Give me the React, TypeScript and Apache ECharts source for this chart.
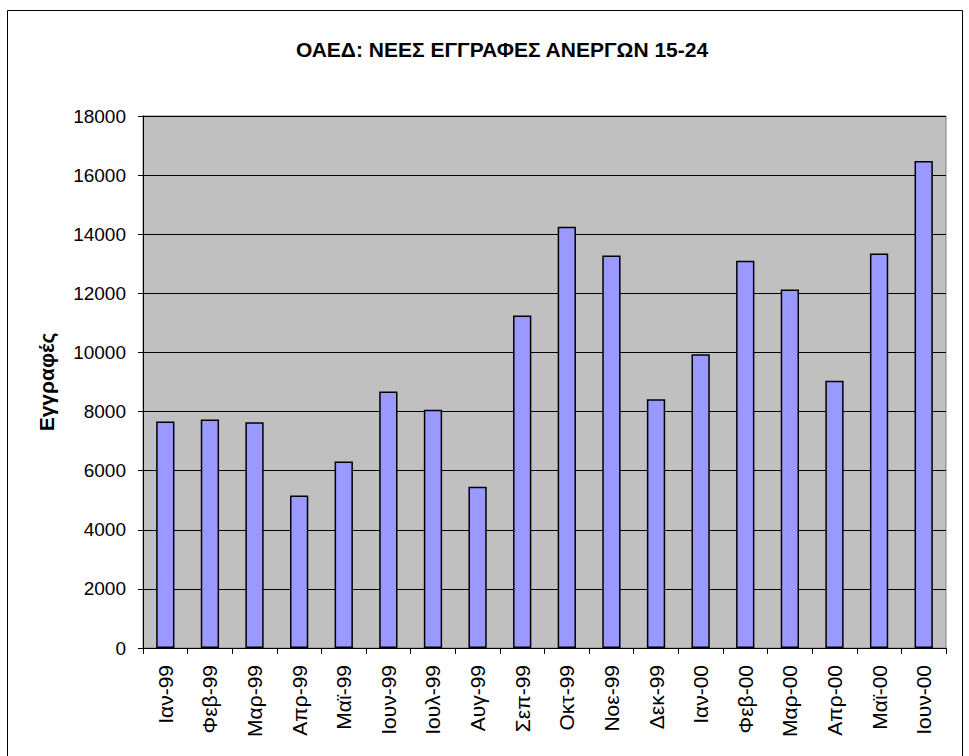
import React, { useEffect, useRef } from "react";
import * as echarts from "echarts";

const categories = [
  "Ιαν-99", "Φεβ-99", "Μαρ-99", "Απρ-99", "Μαϊ-99", "Ιουν-99", "Ιουλ-99", "Αυγ-99", "Σεπ-99",
  "Οκτ-99", "Νοε-99", "Δεκ-99", "Ιαν-00", "Φεβ-00", "Μαρ-00", "Απρ-00", "Μαϊ-00", "Ιουν-00",
];
const registrations = [
  7660, 7730, 7640, 5160, 6310, 8680, 8060, 5460, 11250,
  14250, 13280, 8420, 9940, 13100, 12130, 9040, 13350, 16480,
];
const titleText = "ΟΑΕΔ: ΝΕΕΣ ΕΓΓΡΑΦΕΣ ΑΝΕΡΓΩΝ 15-24";
const yAxisName = "Εγγραφές";
const yMin = 0;
const yMax = 18000;
const yInterval = 2000;

const FONT = "'Liberation Sans', Arial, sans-serif";

export default function App() {
  const ref = useRef<HTMLDivElement>(null);
  useEffect(() => {
    if (!ref.current) return;
    const chart = echarts.init(ref.current, null, { renderer: "svg" });
    chart.setOption({
      animation: false,
      backgroundColor: "#ffffff",
      title: {
        text: titleText,
        left: 497,
        top: 34,
        textAlign: "center",
        textStyle: { fontFamily: FONT, fontWeight: "bold", fontSize: 21, color: "#000" },
      },
      graphic: [
        {
          type: "rect",
          shape: { x: 7.5, y: 10.5, width: 955, height: 800 },
          style: { fill: "none", stroke: "#000", lineWidth: 1 },
          silent: true,
          z: -1,
        },
      ],
      grid: {
        left: 143,
        top: 116,
        width: 803,
        height: 532,
        show: true,
        backgroundColor: "#C0C0C0",
        borderColor: "#808080",
        borderWidth: 1,
      },
      xAxis: {
        type: "category",
        data: categories,
        axisLine: { lineStyle: { color: "#000", width: 1 } },
        axisTick: { show: true, alignWithLabel: false, length: 6, lineStyle: { color: "#000" } },
        axisLabel: {
          rotate: 90,
          margin: 17,
          fontSize: 21,
          fontFamily: FONT,
          color: "#000",
          interval: 0,
        },
      },
      yAxis: {
        type: "value",
        min: yMin,
        max: yMax,
        interval: yInterval,
        name: yAxisName,
        nameLocation: "middle",
        nameRotate: 90,
        nameGap: 86,
        nameTextStyle: { fontFamily: FONT, fontWeight: "bold", fontSize: 21, color: "#000" },
        axisLine: { show: true, lineStyle: { color: "#000", width: 1 } },
        axisTick: { show: true, length: 5, lineStyle: { color: "#000" } },
        axisLabel: {
          fontSize: 19,
          fontFamily: FONT,
          color: "#000",
          margin: 17,
          formatter: (v: number) => String(v),
        },
        splitLine: { show: true, lineStyle: { color: "#000", width: 1 } },
      },
      series: [
        {
          type: "bar",
          data: registrations,
          barWidth: "41%",
          itemStyle: { color: "#9999FF", borderColor: "#000", borderWidth: 1.5 },
        },
      ],
    });
    return () => chart.dispose();
  }, []);
  return (
    <div
      ref={ref}
      style={{ position: "fixed", left: 0, top: 0, width: 969, height: 756 }}
    />
  );
}
